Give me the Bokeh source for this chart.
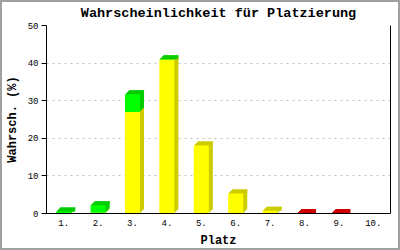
from bokeh.plotting import figure
from bokeh.models import ColumnDataSource, FactorRange, Range1d, LinearAxis, FixedTicker
from bokeh.transform import dodge
from bokeh.embed import file_html
from bokeh.resources import INLINE

# ---- data ----
places = ["1.", "2.", "3.", "4.", "5.", "6.", "7.", "8.", "9.", "10."]
yellow = [0.0, 0.2, 27.0, 40.9, 18.1, 5.3, 0.7, 0.0, 0.0, 0.0]
green = [0.5, 2.0, 4.7, 0.1, 0.0, 0.0, 0.0, 0.0, 0.0, 0.0]
red = [0.0, 0.0, 0.0, 0.0, 0.0, 0.0, 0.0, 0.1, 0.1, 0.0]
y_ticks = [0, 10, 20, 30, 40, 50]

# ---- styles ----
FRONT = ["#ffff00", "#00ff00", "#ff0000"]
DARK = ["#cccc00", "#00cc00", "#cc0000"]
MONO = "Liberation Mono"

W, H = 400, 250
BORDER = 2
ML, MR, MT, MB = 41, 12, 23, 39
frame_w = 343
frame_h = 188
Y_MAX = 50
dx = 1.0 / (frame_w / len(places))   # one pixel in category units
dy = Y_MAX / frame_h                  # one pixel in y units
BW = 15 * dx                          # bar front width

# stacked bounds
b0 = [0.0] * len(places)
b1 = [a for a in yellow]
b2 = [a + b for a, b in zip(yellow, green)]
b3 = [a + b + c for a, b, c in zip(yellow, green, red)]
cap = []
cap_alpha = []
for yv, gv, rv in zip(yellow, green, red):
    c = DARK[0]
    if gv > 0:
        c = DARK[1]
    if rv > 0:
        c = DARK[2]
    cap.append(c)
    cap_alpha.append(1.0 if (yv + gv + rv) > 0 else 0.0)

src = ColumnDataSource(dict(x=places, b0=b0, b1=b1, b2=b2, b3=b3,
                            cap=cap, cap_alpha=cap_alpha))

p = figure(x_range=FactorRange(*places), y_range=Range1d(0, Y_MAX),
           width=W, height=H, output_backend="svg", toolbar_location=None,
           title="Wahrscheinlichkeit für Platzierung",
           min_border_left=ML, min_border_right=MR,
           min_border_top=MT, min_border_bottom=MB)
p.styles = {"border": "%dpx solid #a0a0a0" % BORDER, "box-sizing": "border-box"}
p.outline_line_color = None
p.background_fill_color = "white"
p.border_fill_color = "white"

# grid
p.xgrid.visible = False
p.ygrid.ticker = FixedTicker(ticks=y_ticks)
p.ygrid.grid_line_color = "#c0c0c0"
p.ygrid.grid_line_dash = "2 4"
p.ygrid.grid_line_width = 1

segs = [("b0", "b1"), ("b1", "b2"), ("b2", "b3")]

# 3D depth (side + top) layers
for k in [4, 3, 2, 1]:
    xs = dodge("x", k * dx, range=p.x_range)
    for (lo, hi), col in zip(segs, DARK):
        p.vbar(x=xs, width=BW, bottom=dodge(lo, k * dy), top=dodge(hi, k * dy),
               fill_color=col, line_color=None, source=src)
    p.vbar(x=xs, width=BW, bottom="b3", top=dodge("b3", k * dy),
           fill_color="cap", fill_alpha="cap_alpha", line_color=None, source=src)

# front faces
for (lo, hi), col in zip(segs, FRONT):
    p.vbar(x="x", width=BW, bottom=lo, top=hi, fill_color=col,
           line_color=None, source=src)

# axes
p.yaxis.ticker = FixedTicker(ticks=y_ticks)
p.yaxis.axis_label = "Wahrsch. (%)"
p.xaxis.axis_label = "Platz"
for ax in (p.xaxis[0], p.yaxis[0]):
    ax.axis_line_color = "black"
    ax.axis_line_width = 1
    ax.major_label_text_font = MONO
    ax.major_label_text_font_size = "9px"
    ax.major_label_text_color = "black"
    ax.axis_label_text_font = MONO
    ax.axis_label_text_font_style = "bold"
    ax.axis_label_text_font_size = "12px"
    ax.axis_label_text_color = "black"
    ax.minor_tick_line_color = None
    ax.axis_label_standoff = 5

p.yaxis.major_tick_out = 5
p.yaxis.major_tick_in = 0
p.yaxis.major_tick_line_color = "black"
p.yaxis.major_label_standoff = 3
p.xaxis.major_tick_line_color = None
p.xaxis.major_tick_out = 0
p.xaxis.major_tick_in = 0
p.xaxis.major_label_standoff = 6

right = LinearAxis(ticker=FixedTicker(ticks=[]))
right.axis_line_color = "black"
right.major_tick_line_color = None
right.minor_tick_line_color = None
right.major_label_text_font_size = "0px"
p.add_layout(right, "right")

# title
p.title.text_font = MONO
p.title.text_font_style = "bold"
p.title.text_font_size = "13.5px"
p.title.text_color = "black"
p.title.align = "center"
p.title.vertical_align = "top"
p.title.standoff = 6

open("out.html", "w").write(file_html(p, INLINE))
